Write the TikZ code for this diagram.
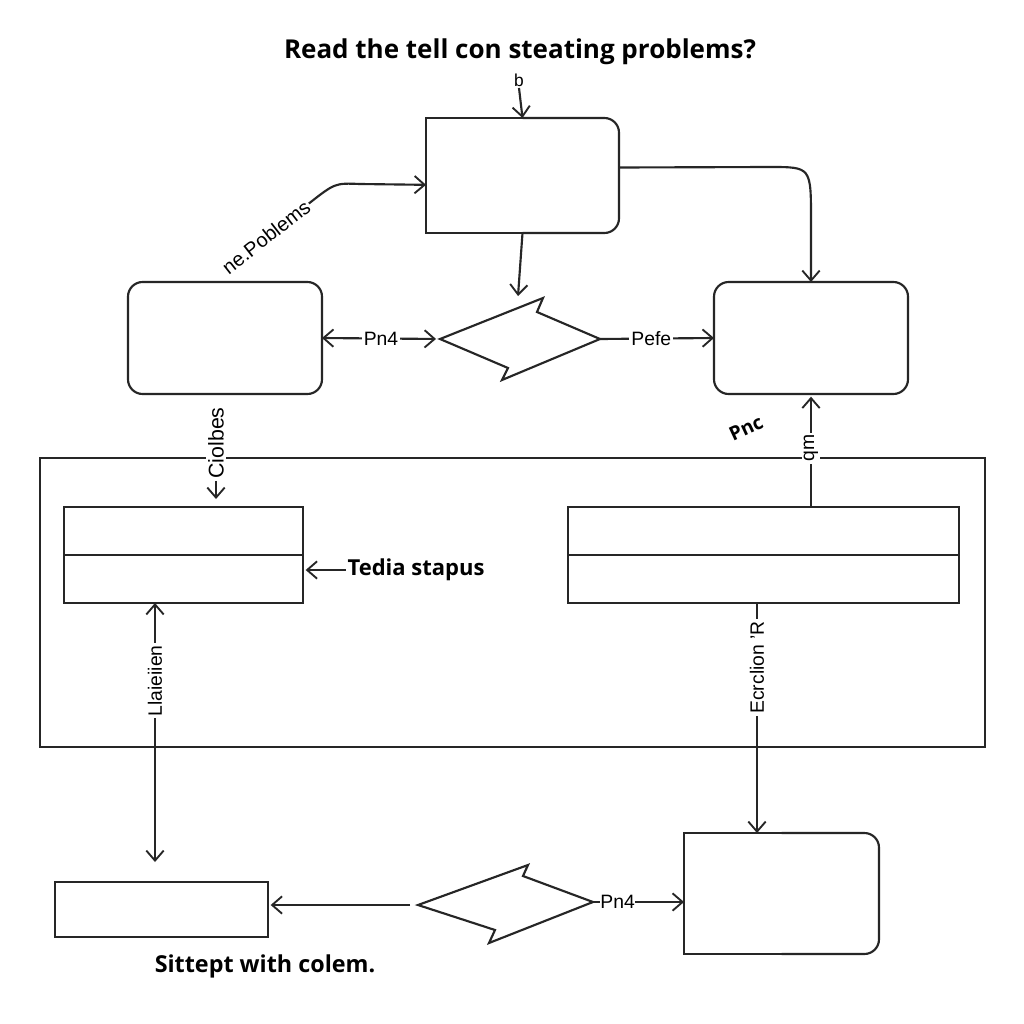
\documentclass[tikz,border=0pt]{standalone}
\usepackage{fontspec}
\setmainfont{Liberation Sans}
\newfontfamily\boldfam{Open Sans}
\usetikzlibrary{arrows.meta,fit,calc}
\begin{document}
\begin{tikzpicture}[x=0.75pt,y=-0.75pt,
  ln/.style={line width=1.6pt, draw=black!85},
  tip/.tip={Straight Barb[length=7.5pt,width=13pt,line width=1.4pt]},
  arr/.style={ln,-tip},
  arrb/.style={ln,tip-tip},
  frame/.style={inner sep=0pt, outer sep=0pt},
  rbx/.style={frame, draw=black!85, line width=1.6pt, rounded corners=11pt},
  sbx/.style={frame, draw=black!85, line width=1.6pt},
  lbl/.style={fill=white, inner sep=1.5pt, font=\fontsize{14.5}{16}\selectfont},
  bold/.style={inner sep=1pt, font=\boldfam\bfseries\fontsize{16.5}{19}\selectfont},
]
\useasboundingbox[fill=white] (0,0) rectangle (1024,1024);

% title
\node[bold, font=\boldfam\bfseries\fontsize{19.5}{22}\selectfont] (title) at (520,52) {Read the tell con steating problems?};

% top box (left corners square, right corners rounded)
\node[frame, fit={(426,118) (619,233)}] (top) {};
\draw[ln] (top.north) -- (top.north west) -- (top.south west) -- (top.south);
\draw[ln, rounded corners=11pt] (top.north) -| (top.east) |- (top.south);

\node[inner sep=1pt, font=\fontsize{13}{14}\selectfont] (pin) at (519,80) {b};
\draw[arr] (pin.south) -- (top.north);

% side boxes
\node[rbx, fit={(128,282) (322,394)}] (lbox) {};
\node[rbx, fit={(714,282) (908,394)}] (rbox) {};

% upper diamond
\coordinate (d1L) at (440,339);
\coordinate (d1T) at (543,298);
\coordinate (d1t) at (537,312);
\coordinate (d1R) at (600,339);
\coordinate (d1B) at (502,380);
\coordinate (d1b) at (508,368);
\draw[ln, line join=miter] (d1L) -- (d1T) -- (d1t) -- (d1R) -- (d1B) -- (d1b) -- cycle;
\coordinate (d1in) at (518,296);
\draw[arr] (top.south) -- (d1in);

\draw[arrb, shorten >=3pt] (lbox.east) -- (d1L) node[midway, lbl] {Pn4};
\draw[arr] (d1R) -- (rbox.west) node[pos=0.45, lbl] {Pefe};

% curved arrow with rotated label
\node[rotate=38, inner sep=1pt, font=\fontsize{15}{17}\selectfont] (pobl) at (266,237) {ne.Poblems};
\draw[arr] (pobl.east) .. controls (335,183) .. (360,184) -- ([yshift=-7pt]top.west);

% top box to right box
\draw[arr] ([yshift=6pt]top.east) -- (770,167) .. controls (811,167) .. (811,220) -- (rbox.north);

% big frame
\node[sbx, fit={(40,458) (985,747)}] (frm) {};

% stacked boxes
\node[sbx, fit={(64,507) (303,603)}] (lsbox) {};
\draw[ln] (lsbox.west) -- (lsbox.east);
\node[sbx, fit={(568,507) (959,603)}] (rsbox) {};
\draw[ln] (rsbox.west) -- (rsbox.east);

% Colbes
\node[lbl, rotate=90, font=\fontsize{16}{18}\selectfont] (colb) at (216,443) {Ciolbes};
\draw[arr, shorten >=6pt] (colb.west) -- (colb.west |- lsbox.north);

% Tedia stapus
\node[bold] (tedia) at (416,570) {Tedia stapus};
\draw[arr, shorten >=2pt] (tedia.west) -- (tedia.west -| lsbox.east);

% Pnc
\node[bold, rotate=25, font=\boldfam\bfseries\fontsize{14.5}{16}\selectfont] (pnc) at (746,428) {Pnc};

% up arrow to right box
\draw[arr, shorten >=2pt] (rbox.south |- rsbox.north) -- (rbox.south) node[pos=0.52, lbl, rotate=90] {qm};

% bottom boxes
\node[sbx, fit={(55,882) (268,937)}] (blbox) {};
\node[frame, fit={(684,833) (879,954)}] (brbox) {};
\draw[ln] (brbox.north) -- (brbox.north west) -- (brbox.south west) -- (brbox.south);
\draw[ln, rounded corners=11pt] (brbox.north) -| (brbox.east) |- (brbox.south);

% Llaieiien
\coordinate (llb) at (155,862);
\draw[arrb] (lsbox.south -| llb) -- (llb) node[pos=0.30, lbl, rotate=90] {Llaieiien};

% Exclion
\coordinate (exx) at (757,833);
\draw[arr] (rsbox.south -| exx) -- (brbox.north -| exx) node[pos=0.28, lbl, rotate=90] {Ecrclion 'R};

% lower diamond
\coordinate (d2L) at (418,905);
\coordinate (d2T) at (528,865);
\coordinate (d2t) at (523,876);
\coordinate (d2R) at (593,902);
\coordinate (d2B) at (489,943);
\coordinate (d2b) at (495,930);
\draw[ln, line join=miter] (d2L) -- (d2T) -- (d2t) -- (d2R) -- (d2B) -- (d2b) -- cycle;
\draw[arr, shorten >=2pt] ([xshift=-6pt]d2L) -- (blbox.east |- d2L);
\draw[arr] (d2R) -- (d2R -| brbox.west) node[pos=0.27, lbl, inner sep=0.5pt] {Pn4};

% footer
\node[bold, font=\boldfam\bfseries\fontsize{17.5}{20}\selectfont] (foot) at (265,966) {Sittept with colem.};
\end{tikzpicture}
\end{document}
